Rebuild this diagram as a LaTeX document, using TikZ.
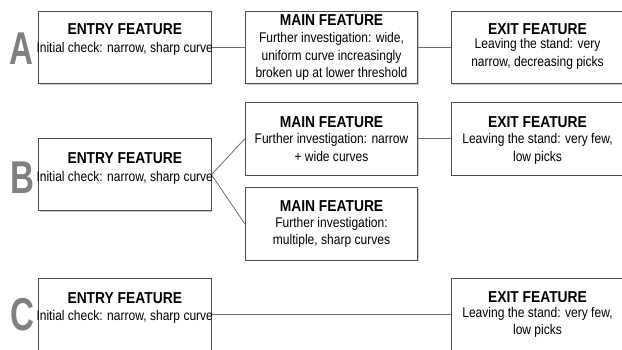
\documentclass[tikz,border=0pt]{standalone}
\usepackage{fontspec}
\setmainfont{Liberation Sans}
\newfontfamily\bodyfont[FakeStretch=0.86]{Liberation Sans}
\newfontfamily\titlefont[FakeStretch=0.875]{Liberation Sans}
\newfontfamily\letterfont[FakeStretch=0.72]{Liberation Sans}
\usetikzlibrary{shadows}
\definecolor{boxline}{HTML}{4D4D4D}
\definecolor{connline}{HTML}{6E6E6E}
\definecolor{lettergray}{HTML}{808080}
\newcommand{\ftitle}[1]{{\titlefont\bfseries\fontsize{15.8}{17.5}\selectfont #1}}
\begin{document}
\begin{tikzpicture}[x=1pt,y=-1pt,
  fbox/.style={draw=boxline, line width=0.9pt, fill=white, minimum width=172.5pt, minimum height=72.3pt, inner sep=0pt,
    drop shadow={shadow xshift=1.3pt, shadow yshift=-1.3pt, opacity=0.35, fill=black!60}},
  flabel/.style={anchor=north, align=center, inner sep=0pt, font=\bodyfont\fontsize{14}{17.5}\selectfont},
  conn/.style={draw=connline, line width=0.8pt},
  rowletter/.style={inner sep=0pt, text=lettergray, font=\letterfont\bfseries\fontsize{46}{46}\selectfont}]
\path[use as bounding box] (0,0) rectangle (622,350);
\fill[white] (0,0) rectangle (622,350);
\clip (0,0) rectangle (622,350);

% row A
\node[fbox] (EA) at (124.75,47.35) {};
\node[fbox] (MA) at (331.5,47.35) {};
\node[fbox] (XA) at (537.5,47.35) {};
% row B
\node[fbox] (EB) at (124.75,174.65) {};
\node[fbox] (MB1) at (331.5,138.85) {};
\node[fbox] (MB2) at (331.5,223.85) {};
\node[fbox] (XB) at (537.5,138.85) {};
% row C
\node[fbox] (EC) at (124.75,314.45) {};
\node[fbox] (XC) at (537.5,314.45) {};

% connectors
\draw[conn] (EA.east) -- (MA.west);
\draw[conn] (MA.east) -- (XA.west);
\draw[conn] (EB.east) -- (MB1.west);
\draw[conn] (EB.east) -- (MB2.west);
\draw[conn] (MB1.east) -- (XB.west);
\draw[conn] (EC.east) -- (XC.west);

% row letters
\node[rowletter] (LA) at (21.5,48.5) {A};
\node[rowletter] (LB) at (22.5,178) {B};
\node[rowletter] (LC) at (22,315) {C};

% labels (north = title baseline - cap height)
\node[flabel] (tEA) at (124.75,23.7) {\ftitle{ENTRY FEATURE}\\[0.5pt]Initial check: narrow, sharp curve};
\node[flabel] (tMA) at (331.5,14.7) {\ftitle{MAIN FEATURE}\\[-0.5pt]Further investigation: wide,\\uniform curve increasingly\\broken up at lower threshold};
\node[flabel] (tXA) at (537.5,23) {\ftitle{EXIT FEATURE}\\[-3.5pt]Leaving the stand: very\\[0.8pt]narrow, decreasing picks};
\node[flabel] (tEB) at (124.75,152) {\ftitle{ENTRY FEATURE}\\[1pt]Initial check: narrow, sharp curve};
\node[flabel] (tMB1) at (331.5,116) {\ftitle{MAIN FEATURE}\\[-1pt]Further investigation: narrow\\+ wide curves};
\node[flabel] (tMB2) at (331.5,200.4) {\ftitle{MAIN FEATURE}\\[-1.5pt]Further investigation:\\multiple, sharp curves};
\node[flabel] (tXB) at (537.5,116.5) {\ftitle{EXIT FEATURE}\\[-1.5pt]Leaving the stand: very few,\\low picks};
\node[flabel] (tEC) at (124.75,292) {\ftitle{ENTRY FEATURE}\\Initial check: narrow, sharp curve};
\node[flabel] (tXC) at (537.5,291.4) {\ftitle{EXIT FEATURE}\\[-2.5pt]Leaving the stand: very few,\\low picks};
\end{tikzpicture}
\end{document}
